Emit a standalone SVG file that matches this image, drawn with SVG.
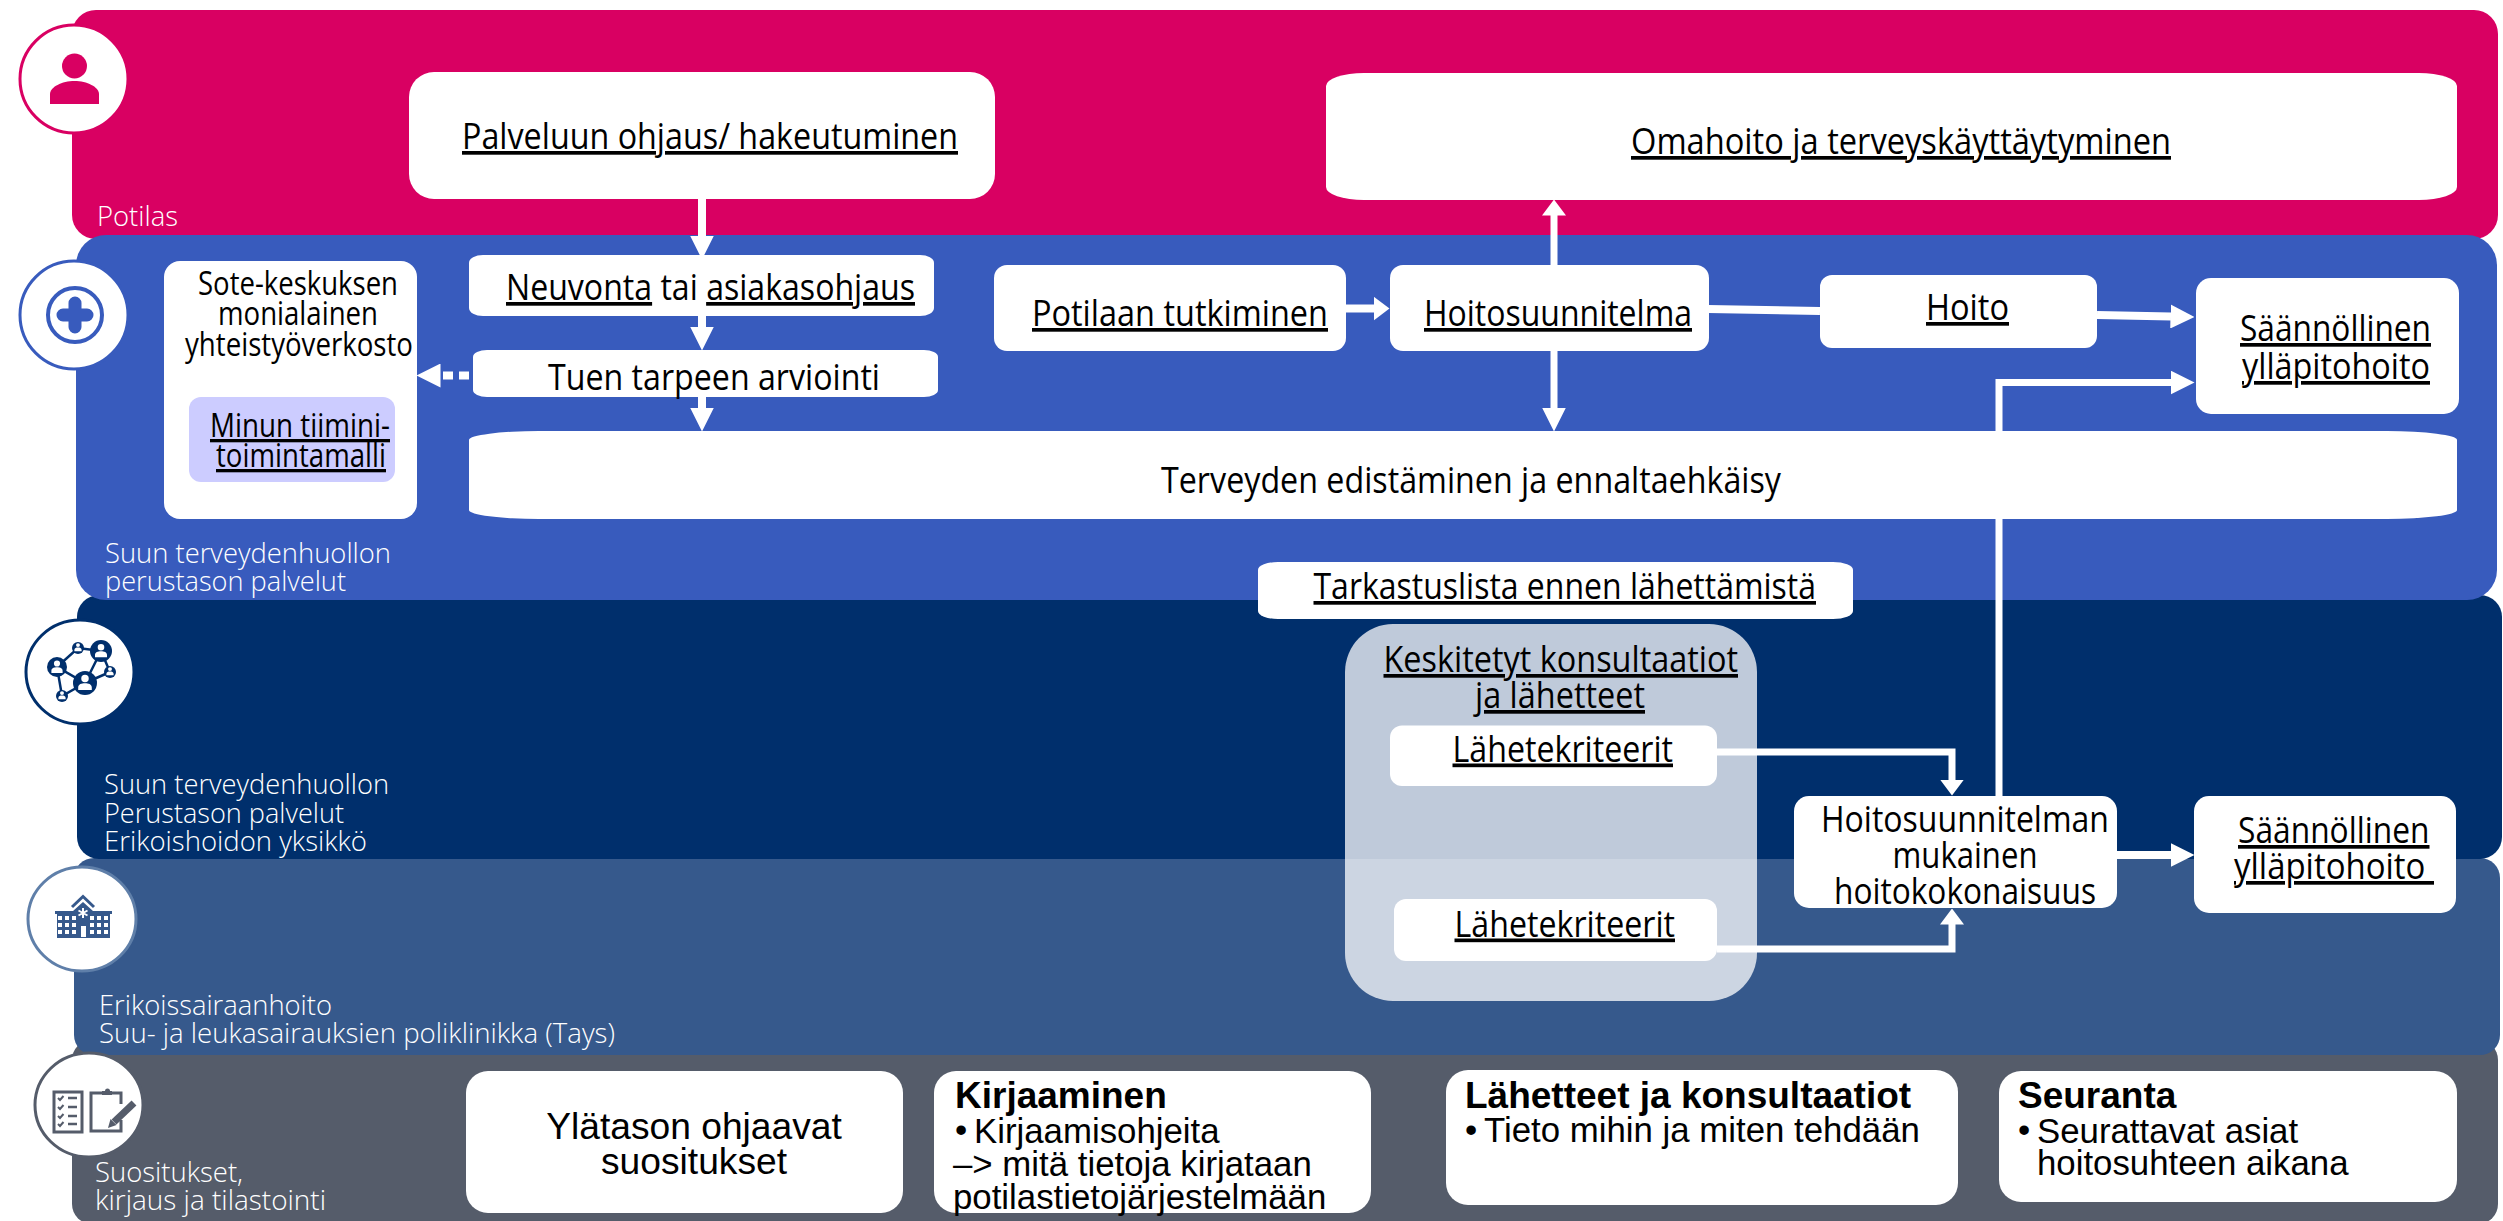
<svg xmlns="http://www.w3.org/2000/svg" width="2503" height="1221" viewBox="0 0 2503 1221">
<style>
text{font-family:"Open Sans","Lato",sans-serif;font-size:37px;fill:#000}
.u{text-decoration:underline}
.s{font-size:33px}
.lab{fill:#fff;font-size:28px;font-weight:300}
.a{font-family:"Liberation Sans",Arial,sans-serif;font-size:34.800px}
.y{font-size:37.200px}
.b{font-weight:bold;font-size:37px}
.box{fill:#fff}
.c{fill:none;stroke:#fff;stroke-width:8}
.c7{stroke-width:7}
.ring{fill:#fff;stroke-width:3}
</style>
<defs>
<marker id="ah" markerUnits="userSpaceOnUse" markerWidth="24" markerHeight="24" refX="0.5" refY="12" orient="auto"><path d="M0 0L24 12L0 24Z" fill="#fff"/></marker>
<marker id="as" markerUnits="userSpaceOnUse" markerWidth="16" markerHeight="24" refX="0.5" refY="12" orient="auto"><path d="M0 0L16 12L0 24Z" fill="#fff"/></marker>
<path id="pers" d="M-2.200 -3.200a2.200 2.200 0 1 1 4.400 0a2.200 2.200 0 1 1 -4.400 0M-4 3.500V2C-4 0 -2 -0.500 0 -0.500S4 0 4 2V3.500Z" fill="#fff"/>
</defs>
<rect width="2503" height="1221" fill="#fff"/>
<g id="bands">
<rect id="band-grey" x="72" y="1040" width="2426" height="184" rx="20" fill="#555C6A"/>
<rect id="band-mid" x="74" y="858" width="2426" height="197" rx="20" fill="#36598C"/>
<rect id="band-navy" x="77" y="595" width="2425" height="264" rx="22" fill="#002F6C"/>
<rect id="band-pink" x="72" y="10" width="2426" height="229" rx="24" fill="#D90062"/>
<rect id="band-blue" x="76" y="235" width="2421" height="365" rx="30" fill="#385BBD"/>
<text class="lab" x="97" y="226" textLength="81" lengthAdjust="spacingAndGlyphs">Potilas</text>
<text class="lab" x="105" y="563" textLength="286" lengthAdjust="spacingAndGlyphs">Suun terveydenhuollon</text>
<text class="lab" x="105" y="591" textLength="241" lengthAdjust="spacingAndGlyphs">perustason palvelut</text>
<text class="lab" x="104" y="794" textLength="285" lengthAdjust="spacingAndGlyphs">Suun terveydenhuollon</text>
<text class="lab" x="104" y="823" textLength="240" lengthAdjust="spacingAndGlyphs">Perustason palvelut</text>
<text class="lab" x="104" y="851" textLength="263" lengthAdjust="spacingAndGlyphs">Erikoishoidon yksikkö</text>
<text class="lab" x="99" y="1015" textLength="233" lengthAdjust="spacingAndGlyphs">Erikoissairaanhoito</text>
<text class="lab" x="99" y="1043" textLength="516" lengthAdjust="spacingAndGlyphs">Suu- ja leukasairauksien poliklinikka (Tays)</text>
<text class="lab" x="95" y="1182" textLength="148" lengthAdjust="spacingAndGlyphs">Suositukset,</text>
<text class="lab" x="95" y="1210" textLength="231" lengthAdjust="spacingAndGlyphs">kirjaus ja tilastointi</text>
</g>
<g id="icon-potilas">
<circle class="ring" cx="74" cy="79" r="54" stroke="#D90062"/>
<circle cx="74.500" cy="66" r="12.500" fill="#D90062"/>
<path d="M50 104V94C50 87 62 81 74.500 81S99 87 99 94V104Z" fill="#D90062"/>
</g>
<g id="icon-perustaso">
<circle class="ring" cx="74" cy="315" r="54" stroke="#385BBD"/>
<circle cx="75" cy="315" r="27" fill="none" stroke="#385BBD" stroke-width="4"/>
<path d="M75 303V327M63 315H87" stroke="#385BBD" stroke-width="13" stroke-linecap="round" fill="none"/>
</g>
<g id="icon-verkosto">
<ellipse class="ring" cx="80" cy="672" rx="54" ry="52" stroke="#002F6C"/>
<path d="M57 667L78 648L101 651L110 672L85 683L57 667L62 696L85 683M101 651L85 683" fill="none" stroke="#002F6C" stroke-width="2.500"/>
<g fill="#002F6C"><circle cx="85" cy="683" r="12"/><circle cx="57" cy="667" r="10"/><circle cx="101" cy="651" r="11"/><circle cx="78" cy="648" r="6"/><circle cx="110" cy="672" r="6"/><circle cx="62" cy="696" r="6"/></g>
<use href="#pers" transform="translate(85 684) scale(1.700)"/>
<use href="#pers" transform="translate(57 668) scale(1.400)"/>
<use href="#pers" transform="translate(101 652) scale(1.500)"/>
<use href="#pers" transform="translate(78 648) scale(0.900)"/>
<use href="#pers" transform="translate(110 672) scale(0.900)"/>
<use href="#pers" transform="translate(62 696) scale(0.900)"/>
</g>
<g id="icon-sairaala">
<ellipse class="ring" cx="82" cy="919" rx="54" ry="52" stroke="#5F7FA9"/>
<path d="M55 911H73L83 902L93 911H112V914H110V938H57V914H55Z" fill="#36598C"/>
<path d="M72 907L83 896.500L94 907" fill="none" stroke="#36598C" stroke-width="3"/>
<path d="M58 916h4v4h-4zM65 916h4v4h-4zM72 916h4v4h-4zM90 916h4v4h-4zM97 916h4v4h-4zM104 916h4v4h-4zM58 923h4v4h-4zM65 923h4v4h-4zM72 923h4v4h-4zM90 923h4v4h-4zM97 923h4v4h-4zM104 923h4v4h-4zM58 930h4v4h-4zM65 930h4v4h-4zM72 930h4v4h-4zM90 930h4v4h-4zM97 930h4v4h-4zM104 930h4v4h-4zM81 926h5v11h-5z" fill="#fff"/>
<path d="M83 908V918M78.500 910.500L87.500 915.500M87.500 910.500L78.500 915.500" stroke="#fff" stroke-width="2"/>
</g>
<g id="icon-suositukset">
<ellipse class="ring" cx="89" cy="1105" rx="54" ry="52" stroke="#555C6A"/>
<rect x="54" y="1092" width="28" height="40" fill="none" stroke="#555C6A" stroke-width="3"/>
<path d="M58 1098l2 2 3.500-4M58 1107l2 2 3.500-4M58 1116l2 2 3.500-4M58 1124l2 2 3.500-4" fill="none" stroke="#555C6A" stroke-width="2"/>
<path d="M68 1098h9M68 1107h9M68 1116h9M68 1124h9" fill="none" stroke="#555C6A" stroke-width="2.500"/>
<path d="M121 1104V1093H91V1131H121V1120" fill="none" stroke="#555C6A" stroke-width="3"/>
<path d="M102 1095V1091H105A2.500 2.500 0 0 1 110 1091H112V1095Z" fill="#555C6A"/>
<path d="M134 1103L114 1122" stroke="#555C6A" stroke-width="7" fill="none"/>
<path d="M108 1128l2.500-9 6 6z" fill="#555C6A"/>
</g>
<g id="panel-keskitetyt">
<rect x="1345" y="624" width="412" height="377" rx="48" fill="#fff" fill-opacity="0.75"/>
</g>
<g id="connectors">
<path class="c" d="M702 199V236" marker-end="url(#ah)"/>
<path class="c" d="M702 316V327" marker-end="url(#ah)"/>
<path class="c" d="M702 397V408" marker-end="url(#ah)"/>
<path class="c" d="M469 375.500H440" stroke-dasharray="10 6" marker-end="url(#ah)"/>
<path class="c" d="M1346 308.500H1374" marker-end="url(#as)"/>
<path class="c c7" d="M1554 265V215" marker-end="url(#as)"/>
<path class="c c7" d="M1554 351V408" marker-end="url(#ah)"/>
<path class="c" d="M1708 309L1820 311"/>
<path class="c" d="M2097 315L2171 316.500" marker-end="url(#ah)"/>
<path class="c c7" d="M1999 796V382.500H2171" marker-end="url(#ah)"/>
<path class="c c7" d="M1717 752H1952V780" marker-end="url(#as)"/>
<path class="c c7" d="M1717 949H1952V924" marker-end="url(#as)"/>
<path class="c" d="M2117 855H2171" marker-end="url(#ah)"/>
</g>
<g id="node-palveluun"><rect class="box" x="409" y="72" width="586" height="127" rx="25"/>
<text class="u" x="462" y="149" textLength="496" lengthAdjust="spacingAndGlyphs">Palveluun ohjaus/ hakeutuminen</text></g>
<g id="node-omahoito"><rect class="box" x="1326" y="73" width="1131" height="127" rx="38" ry="13"/>
<text class="u" x="1631" y="154" textLength="540" lengthAdjust="spacingAndGlyphs">Omahoito ja terveyskäyttäytyminen</text></g>
<g id="node-sote"><rect class="box" x="164" y="261" width="253" height="258" rx="16"/>
<text class="s" x="298" y="295" text-anchor="middle" textLength="200" lengthAdjust="spacingAndGlyphs">Sote-keskuksen</text>
<text class="s" x="298" y="325" text-anchor="middle" textLength="160" lengthAdjust="spacingAndGlyphs">monialainen</text>
<text class="s" x="299" y="356" text-anchor="middle" textLength="228" lengthAdjust="spacingAndGlyphs">yhteistyöverkosto</text></g>
<g id="node-minun"><rect x="189" y="397" width="206" height="85" rx="12" fill="#CCCCFF"/>
<text class="u s" x="210" y="437" textLength="180" lengthAdjust="spacingAndGlyphs">Minun tiimini-</text>
<text class="u s" x="216" y="467" textLength="170" lengthAdjust="spacingAndGlyphs">toimintamalli</text></g>
<g id="node-neuvonta"><rect class="box" x="469" y="255" width="465" height="61" rx="14" ry="8"/>
<text x="506" y="300" textLength="409" lengthAdjust="spacingAndGlyphs"><tspan class="u">Neuvonta</tspan> tai <tspan class="u">asiakasohjaus</tspan></text></g>
<g id="node-tuen"><rect class="box" x="473" y="350" width="465" height="47" rx="14" ry="7"/>
<text x="548" y="390" textLength="332" lengthAdjust="spacingAndGlyphs">Tuen tarpeen arviointi</text></g>
<g id="node-terveyden"><rect class="box" x="469" y="431" width="1988" height="88" rx="70" ry="9"/>
<text x="1161" y="493" textLength="620" lengthAdjust="spacingAndGlyphs">Terveyden edistäminen ja ennaltaehkäisy</text></g>
<g id="node-potilaan"><rect class="box" x="994" y="265" width="352" height="86" rx="13"/>
<text class="u" x="1032" y="326" textLength="296" lengthAdjust="spacingAndGlyphs">Potilaan tutkiminen</text></g>
<g id="node-hoitosuunnitelma"><rect class="box" x="1390" y="265" width="319" height="86" rx="13"/>
<text class="u" x="1424" y="326" textLength="268" lengthAdjust="spacingAndGlyphs">Hoitosuunnitelma</text></g>
<g id="node-hoito"><rect class="box" x="1820" y="275" width="277" height="73" rx="12"/>
<text class="u" x="1926" y="320" textLength="83" lengthAdjust="spacingAndGlyphs">Hoito</text></g>
<g id="node-saannollinen1"><rect class="box" x="2196" y="278" width="263" height="136" rx="15"/>
<text class="u" x="2240" y="341" textLength="191" lengthAdjust="spacingAndGlyphs">Säännöllinen</text>
<text class="u" x="2242" y="379" textLength="188" lengthAdjust="spacingAndGlyphs">ylläpitohoito</text></g>
<g id="node-tarkastuslista"><rect class="box" x="1258" y="562" width="595" height="57" rx="20" ry="8"/>
<text class="u" x="1313.500" y="599" textLength="502.500" lengthAdjust="spacingAndGlyphs">Tarkastuslista ennen lähettämistä</text></g>
<g id="node-keskitetyt">
<text class="u" x="1383.500" y="672" textLength="354.500" lengthAdjust="spacingAndGlyphs">Keskitetyt konsultaatiot</text>
<text class="u" x="1475" y="708" textLength="170" lengthAdjust="spacingAndGlyphs">ja lähetteet</text></g>
<g id="node-lahete1"><rect class="box" x="1390" y="725.500" width="327" height="60.500" rx="12"/>
<text class="u" x="1452.500" y="761.500" textLength="220.500" lengthAdjust="spacingAndGlyphs">Lähetekriteerit</text></g>
<g id="node-lahete2"><rect class="box" x="1394" y="899" width="323" height="62" rx="12"/>
<text class="u" x="1454.500" y="936.500" textLength="220.500" lengthAdjust="spacingAndGlyphs">Lähetekriteerit</text></g>
<g id="node-kokonaisuus"><rect class="box" x="1794" y="796" width="323" height="112" rx="15"/>
<text x="1965" y="832" text-anchor="middle" textLength="288" lengthAdjust="spacingAndGlyphs">Hoitosuunnitelman</text>
<text x="1965" y="868" text-anchor="middle" textLength="145" lengthAdjust="spacingAndGlyphs">mukainen</text>
<text x="1965" y="904" text-anchor="middle" textLength="262" lengthAdjust="spacingAndGlyphs">hoitokokonaisuus</text></g>
<g id="node-saannollinen2"><rect class="box" x="2194" y="796" width="262" height="117" rx="15"/>
<text class="u" x="2238" y="843" textLength="191.500" lengthAdjust="spacingAndGlyphs">Säännöllinen</text>
<text class="u" x="2234" y="879" textLength="200" lengthAdjust="spacingAndGlyphs" xml:space="preserve">ylläpitohoito </text></g>
<g id="node-ylataso"><rect class="box" x="466" y="1071" width="437" height="142" rx="22"/>
<text class="a y" x="694" y="1139" text-anchor="middle">Ylätason ohjaavat</text>
<text class="a y" x="694" y="1174" text-anchor="middle">suositukset</text></g>
<g id="node-kirjaaminen"><rect class="box" x="934" y="1071" width="437" height="142" rx="22"/>
<text class="a b" x="955" y="1108">Kirjaaminen</text>
<text class="a" x="955" y="1142">•</text><text class="a" x="974" y="1142.500">Kirjaamisohjeita</text>
<text class="a" x="953" y="1176">–&gt; mitä tietoja kirjataan</text>
<text class="a" x="953" y="1209">potilastietojärjestelmään</text></g>
<g id="node-lahetteet"><rect class="box" x="1446" y="1070" width="512" height="135" rx="22"/>
<text class="a b" x="1465" y="1108">Lähetteet ja konsultaatiot</text>
<text class="a" x="1465" y="1142">•</text><text class="a" x="1484" y="1142">Tieto mihin ja miten tehdään</text></g>
<g id="node-seuranta"><rect class="box" x="1999" y="1071" width="458" height="131" rx="22"/>
<text class="a b" x="2018" y="1108">Seuranta</text>
<text class="a" x="2018" y="1142">•</text><text class="a" x="2037" y="1142.500">Seurattavat asiat</text>
<text class="a" x="2037" y="1175">hoitosuhteen aikana</text></g>
</svg>
